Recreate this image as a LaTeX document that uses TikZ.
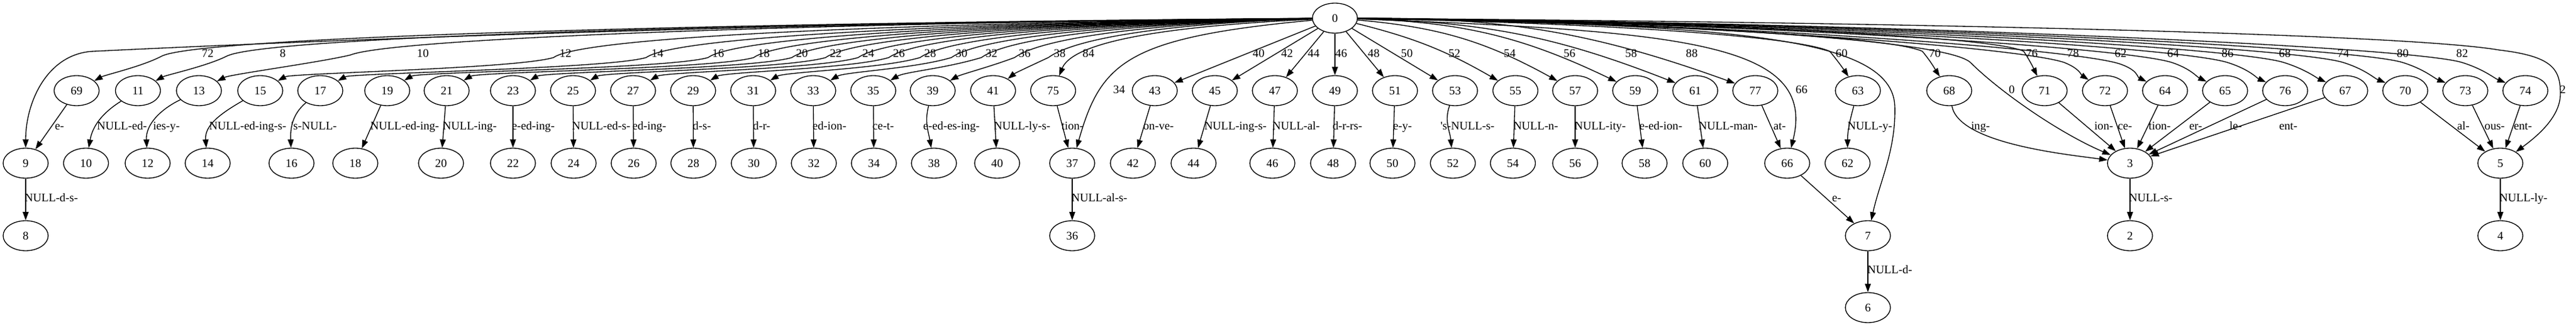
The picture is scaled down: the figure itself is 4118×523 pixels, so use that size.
\documentclass[tikz,border=0pt]{standalone}
\usepackage{fontspec}
\setmainfont{Liberation Serif}[Ligatures=TeXOff]
\usetikzlibrary{arrows.meta,calc,shapes.geometric}
% root edge: child, label x, label, bend point (x,y), control before it, control after it, end control
\def\rootedge#1#2#3#4#5#6#7#8{%
  \draw[trans] (n0) .. controls ({(2134+#4)/2},-36) and ($(#4,#5)+(#6)$) .. (#4,#5)
    .. controls ($(#4,#5)+(#7)$) and ($(n#1)+(#8)$) .. (n#1);
  \node[lab] (l#1) at (#2,-87) {#3};}

\begin{document}
\begin{tikzpicture}[x=0.75pt,y=0.75pt,
  state/.style={draw, ellipse, line width=1pt, minimum width=54pt, minimum height=36pt, inner sep=0pt, font=\fontsize{14pt}{16pt}\selectfont},
  trans/.style={line width=1pt, -{Triangle[length=10pt,width=7pt]}},
  lab/.style={inner sep=0pt, text height=9.5pt, text depth=3pt, font=\fontsize{14pt}{16pt}\selectfont}]
	\useasboundingbox (0,0) rectangle (4118,-523);

	% root
	\node[state] (n0) at (2134,-29) {0};

	% first row
	\node[state] (n69) at (122.5,-145) {69};
	\node[state] (n11) at (220.5,-145) {11};
	\node[state] (n13) at (318,-145) {13};
	\node[state] (n15) at (416,-145) {15};
	\node[state] (n17) at (512,-145) {17};
	\node[state] (n19) at (619,-145) {19};
	\node[state] (n21) at (714,-145) {21};
	\node[state] (n23) at (820,-145) {23};
	\node[state] (n25) at (916,-145) {25};
	\node[state] (n27) at (1012,-145) {27};
	\node[state] (n29) at (1108,-145) {29};
	\node[state] (n31) at (1204,-145) {31};
	\node[state] (n33) at (1300,-145) {33};
	\node[state] (n35) at (1396,-145) {35};
	\node[state] (n39) at (1491,-145) {39};
	\node[state] (n41) at (1587.5,-145) {41};
	\node[state] (n75) at (1683.5,-145) {75};
	\node[state] (n43) at (1846,-145) {43};
	\node[state] (n45) at (1942,-145) {45};
	\node[state] (n47) at (2038,-145) {47};
	\node[state] (n49) at (2134,-145) {49};
	\node[state] (n51) at (2230,-145) {51};
	\node[state] (n53) at (2326,-145) {53};
	\node[state] (n55) at (2422.5,-145) {55};
	\node[state] (n57) at (2518,-145) {57};
	\node[state] (n59) at (2614,-145) {59};
	\node[state] (n61) at (2710,-145) {61};
	\node[state] (n77) at (2806,-145) {77};
	\node[state] (n63) at (2970,-145) {63};
	\node[state] (n68) at (3116,-145) {68};
	\node[state] (n71) at (3268.5,-145) {71};
	\node[state] (n72) at (3365,-145) {72};
	\node[state] (n64) at (3461,-145) {64};
	\node[state] (n65) at (3557,-145) {65};
	\node[state] (n76) at (3653,-145) {76};
	\node[state] (n67) at (3749,-145) {67};
	\node[state] (n70) at (3845,-145) {70};
	\node[state] (n73) at (3941,-145) {73};
	\node[state] (n74) at (4037,-145) {74};

	% second row
	\node[state] (n9) at (41,-261) {9};
	\node[state] (n10) at (137.5,-261) {10};
	\node[state] (n12) at (236,-261) {12};
	\node[state] (n14) at (332,-261) {14};
	\node[state] (n16) at (466,-261) {16};
	\node[state] (n18) at (568,-261) {18};
	\node[state] (n20) at (705,-261) {20};
	\node[state] (n22) at (820,-261) {22};
	\node[state] (n24) at (917,-261) {24};
	\node[state] (n26) at (1013,-261) {26};
	\node[state] (n28) at (1108.5,-261) {28};
	\node[state] (n30) at (1205,-261) {30};
	\node[state] (n32) at (1301,-261) {32};
	\node[state] (n34) at (1397,-261) {34};
	\node[state] (n38) at (1493,-261) {38};
	\node[state] (n40) at (1594,-261) {40};
	\node[state] (n37) at (1714,-261) {37};
	\node[state] (n42) at (1811,-261) {42};
	\node[state] (n44) at (1908,-261) {44};
	\node[state] (n46) at (2034,-261) {46};
	\node[state] (n48) at (2131,-261) {48};
	\node[state] (n50) at (2226,-261) {50};
	\node[state] (n52) at (2322.5,-261) {52};
	\node[state] (n54) at (2418.5,-261) {54};
	\node[state] (n56) at (2518,-261) {56};
	\node[state] (n58) at (2629,-261) {58};
	\node[state] (n60) at (2726,-261) {60};
	\node[state] (n66) at (2857,-261) {66};
	\node[state] (n62) at (2953.5,-261) {62};
	\node[state] (n3) at (3405,-261) {3};
	\node[state] (n5) at (3997,-261) {5};

	% third and fourth row
	\node[state] (n8) at (41,-377) {8};
	\node[state] (n36) at (1714,-377) {36};
	\node[state] (n7) at (2986,-377) {7};
	\node[state] (n2) at (3405,-377) {2};
	\node[state] (n4) at (3997,-377) {4};
	\node[state] (n6) at (2986,-492) {6};

	% edges out of the root, left side
	\draw[trans] (n0) .. controls (1100,-38) and (400,-70) .. (150,-82) .. controls (76,-85) and (41,-163) .. (n9);
	\rootedge{69}{332}{72}{258}{-90}{60,32}{-30,-16}{45,25}
	\rootedge{11}{452}{8}{362}{-90}{60,32}{-32,-16}{45,25}
	\rootedge{13}{676}{10}{560}{-88}{70,28}{-50,-12}{50,26}
	\rootedge{15}{904}{12}{885}{-92}{50,36}{-60,-18}{50,28}
	\rootedge{17}{1051}{14}{1033}{-92}{50,36}{-60,-18}{50,28}
	\rootedge{19}{1148}{16}{1132}{-92}{50,36}{-60,-18}{50,30}
	\rootedge{21}{1221}{18}{1205}{-92}{50,36}{-60,-18}{50,30}
	\rootedge{23}{1282}{20}{1266}{-92}{50,36}{-60,-18}{50,30}
	\rootedge{25}{1336}{22}{1320}{-92}{50,36}{-60,-18}{50,30}
	\rootedge{27}{1388}{24}{1372}{-92}{50,36}{-60,-18}{50,30}
	\rootedge{29}{1437}{26}{1421}{-92}{50,36}{-60,-18}{50,30}
	\rootedge{31}{1487}{28}{1471}{-92}{50,36}{-60,-18}{50,30}
	\rootedge{33}{1537}{30}{1521}{-92}{50,36}{-60,-18}{50,30}
	\rootedge{35}{1585}{32}{1569}{-92}{50,36}{-60,-18}{50,30}
	\rootedge{39}{1638}{36}{1622}{-92}{50,36}{-40,-15}{45,26}
	\rootedge{41}{1694}{38}{1676}{-92}{50,36}{-30,-14}{35,28}
	\draw[trans] (n0) .. controls (1950,-38) and (1720,-55) .. (n75);
	\node[lab] (l75) at (1740,-87) {84};
	\draw[trans] (n0) .. controls (1800,-60) and (1760,-100) .. (n37);
	\node[lab] (l37) at (1789,-145) {34};

	% edges out of the root, middle
	\draw[trans] (n0) -- (n43);
	\node[lab] (l43) at (2012,-87) {40};
	\draw[trans] (n0) -- (n45);
	\node[lab] (l45) at (2057.5,-87) {42};
	\draw[trans] (n0) -- (n47);
	\node[lab] (l47) at (2100,-87) {44};
	\draw[trans] (n0) -- (n49);
	\node[lab] (l49) at (2144,-87) {46};
	\draw[trans] (n0) -- (n51);
	\node[lab] (l51) at (2196,-87) {48};
	\draw[trans] (n0) -- (n53);
	\node[lab] (l53) at (2249,-87) {50};
	\draw[trans] (n0) to[bend left=8] (n55);
	\node[lab] (l55) at (2325,-87) {52};
	\draw[trans] (n0) to[bend left=12] (n57);
	\node[lab] (l57) at (2413.5,-87) {54};
	\draw[trans] (n0) to[bend left=12] (n59);
	\node[lab] (l59) at (2509,-87) {56};
	\draw[trans] (n0) to[bend left=10] (n61);
	\node[lab] (l61) at (2607.5,-87) {58};
	\draw[trans] (n0) to[bend left=10] (n77);
	\node[lab] (l77) at (2704.5,-87) {88};

	% edges out of the root, right side
	\draw[trans] (n0) .. controls (2700,-50) and (2905,-70) .. (n66);
	\node[lab] (l66) at (2880,-145) {66};
	\draw[trans] (n0) .. controls (2750,-40) and (3025,-55) .. (3029,-170) .. controls (3031,-240) and (3005,-290) .. (n7);
	\rootedge{63}{2944}{60}{2925}{-82}{-60,26}{15,-18}{-20,30}
	\rootedge{68}{3093}{70}{3073}{-82}{-60,26}{15,-18}{-20,30}
	\draw[trans] (n0) .. controls (2650,-36) and (3110,-62) .. (3150,-100) .. controls (3195,-145) and (3290,-212) .. (n3);
	\node[lab] (l3) at (3216,-145) {0};
	\rootedge{71}{3248}{76}{3235}{-82}{-55,26}{12,-18}{-15,30}
	\rootedge{72}{3314}{78}{3300}{-100}{-70,24}{25,-10}{-38,25}
	\rootedge{64}{3390}{62}{3388}{-102}{-75,24}{30,-10}{-45,22}
	\rootedge{65}{3474}{64}{3472}{-100}{-75,24}{30,-10}{-45,22}
	\rootedge{76}{3561}{86}{3561}{-100}{-80,25}{35,-11}{-45,20}
	\rootedge{67}{3652.5}{68}{3651}{-100}{-80,25}{35,-11}{-45,20}
	\rootedge{70}{3746}{74}{3746}{-100}{-80,25}{35,-11}{-50,20}
	\rootedge{73}{3841}{80}{3841}{-100}{-80,25}{35,-11}{-50,20}
	\rootedge{74}{3936}{82}{3936}{-100}{-80,25}{35,-11}{-50,20}
	\draw[trans] (n0) .. controls (3100,-36) and (3850,-55) .. (3995,-80) .. controls (4080,-90) and (4093,-110) .. (4093,-150) .. controls (4093,-185) and (4060,-215) .. (n5);
	\node[lab] (l5) at (4097,-145) {2};

	% lower edges
	\draw[trans] (n69) -- (n9);
	\node[lab] (l69-9) at (95,-203) {e-};
	\draw[trans] (n9) -- (n8);
	\node[lab] (l9-8) at (82,-318) {NULL-d-s-};
	\draw[trans] (n11) to[out=-148,in=80] (n10);
	\node[lab] (l11-10) at (195,-203) {NULL-ed-};
	\draw[trans] (n13) to[out=-154,in=93] (n12);
	\node[lab] (l13-12) at (266,-203) {ies-y-};
	\draw[trans] (n15) to[out=-150,in=95] (n14);
	\node[lab] (l15-14) at (396,-203) {NULL-ed-ing-s-};
	\draw[trans] (n17) to[out=-140,in=92] (n16);
	\node[lab] (l17-16) at (502,-203) {'s-NULL-};
	\draw[trans] (n19) -- (n18);
	\node[lab] (l19-18) at (647,-203) {NULL-ed-ing-};
	\draw[trans] (n21) -- (n20);
	\node[lab] (l21-20) at (751,-203) {NULL-ing-};
	\draw[trans] (n23) -- (n22);
	\node[lab] (l23-22) at (852.5,-203) {e-ed-ing-};
	\draw[trans] (n25) -- (n24);
	\node[lab] (l25-24) at (961,-203) {NULL-ed-s-};
	\draw[trans] (n27) -- (n26);
	\node[lab] (l27-26) at (1038,-203) {ed-ing-};
	\draw[trans] (n29) -- (n28);
	\node[lab] (l29-28) at (1122,-203) {d-s-};
	\draw[trans] (n31) -- (n30);
	\node[lab] (l31-30) at (1217.5,-203) {d-r-};
	\draw[trans] (n33) -- (n32);
	\node[lab] (l33-32) at (1326,-203) {ed-ion-};
	\draw[trans] (n35) -- (n34);
	\node[lab] (l35-34) at (1412,-203) {ce-t-};
	\draw[trans] (n39) to[out=-105,in=100] (n38);
	\node[lab] (l39-38) at (1521,-203) {e-ed-es-ing-};
	\draw[trans] (n41) -- (n40);
	\node[lab] (l41-40) at (1634,-203) {NULL-ly-s-};
	\draw[trans] (n75) -- (n37);
	\node[lab] (l75-37) at (1714.5,-203) {tion-};
	\draw[trans] (n37) -- (n36);
	\node[lab] (l37-36) at (1757.5,-318) {NULL-al-s-};
	\draw[trans] (n43) -- (n42);
	\node[lab] (l43-42) at (1852,-203) {on-ve-};
	\draw[trans] (n45) -- (n44);
	\node[lab] (l45-44) at (1975,-203) {NULL-ing-s-};
	\draw[trans] (n47) -- (n46);
	\node[lab] (l47-46) at (2072,-203) {NULL-al-};
	\draw[trans] (n49) -- (n48);
	\node[lab] (l49-48) at (2154,-203) {d-r-rs-};
	\draw[trans] (n51) -- (n50);
	\node[lab] (l51-50) at (2242,-203) {e-y-};
	\draw[trans] (n53) to[out=-110,in=95] (n52);
	\node[lab] (l53-52) at (2346,-203) {'s-NULL-s-};
	\draw[trans] (n55) -- (n54);
	\node[lab] (l55-54) at (2455,-203) {NULL-n-};
	\draw[trans] (n57) -- (n56);
	\node[lab] (l57-56) at (2558,-203) {NULL-ity-};
	\draw[trans] (n59) -- (n58);
	\node[lab] (l59-58) at (2655,-203) {e-ed-ion-};
	\draw[trans] (n61) -- (n60);
	\node[lab] (l61-60) at (2762.5,-203) {NULL-man-};
	\draw[trans] (n77) -- (n66);
	\node[lab] (l77-66) at (2845,-203) {at-};
	\draw[trans] (n66) -- (n7);
	\node[lab] (l66-7) at (2936,-318) {e-};
	\draw[trans] (n7) -- (n6);
	\node[lab] (l7-6) at (3021,-433) {NULL-d-};
	\draw[trans] (n63) to[out=-105,in=90] (n62);
	\node[lab] (l63-62) at (2989,-203) {NULL-y-};
	\draw[trans] (n68) to[out=-80,in=172,looseness=0.6] (n3);
	\node[lab] (l68-3) at (3166,-203) {ing-};
	\draw[trans] (n71) -- (n3);
	\node[lab] (l71-3) at (3363,-203) {ion-};
	\draw[trans] (n72) -- (n3);
	\node[lab] (l72-3) at (3397,-203) {ce-};
	\draw[trans] (n64) -- (n3);
	\node[lab] (l64-3) at (3452.5,-203) {tion-};
	\draw[trans] (n65) -- (n3);
	\node[lab] (l65-3) at (3510,-203) {er-};
	\draw[trans] (n76) -- (n3);
	\node[lab] (l76-3) at (3574,-203) {le-};
	\draw[trans] (n67) -- (n3);
	\node[lab] (l67-3) at (3658,-203) {ent-};
	\draw[trans] (n3) -- (n2);
	\node[lab] (l3-2) at (3438,-318) {NULL-s-};
	\draw[trans] (n70) -- (n5);
	\node[lab] (l70-5) at (3938,-203) {al-};
	\draw[trans] (n73) -- (n5);
	\node[lab] (l73-5) at (3988,-203) {ous-};
	\draw[trans] (n74) -- (n5);
	\node[lab] (l74-5) at (4033,-203) {ent-};
	\draw[trans] (n5) -- (n4);
	\node[lab] (l5-4) at (4034,-318) {NULL-ly-};
\end{tikzpicture}
\end{document}
